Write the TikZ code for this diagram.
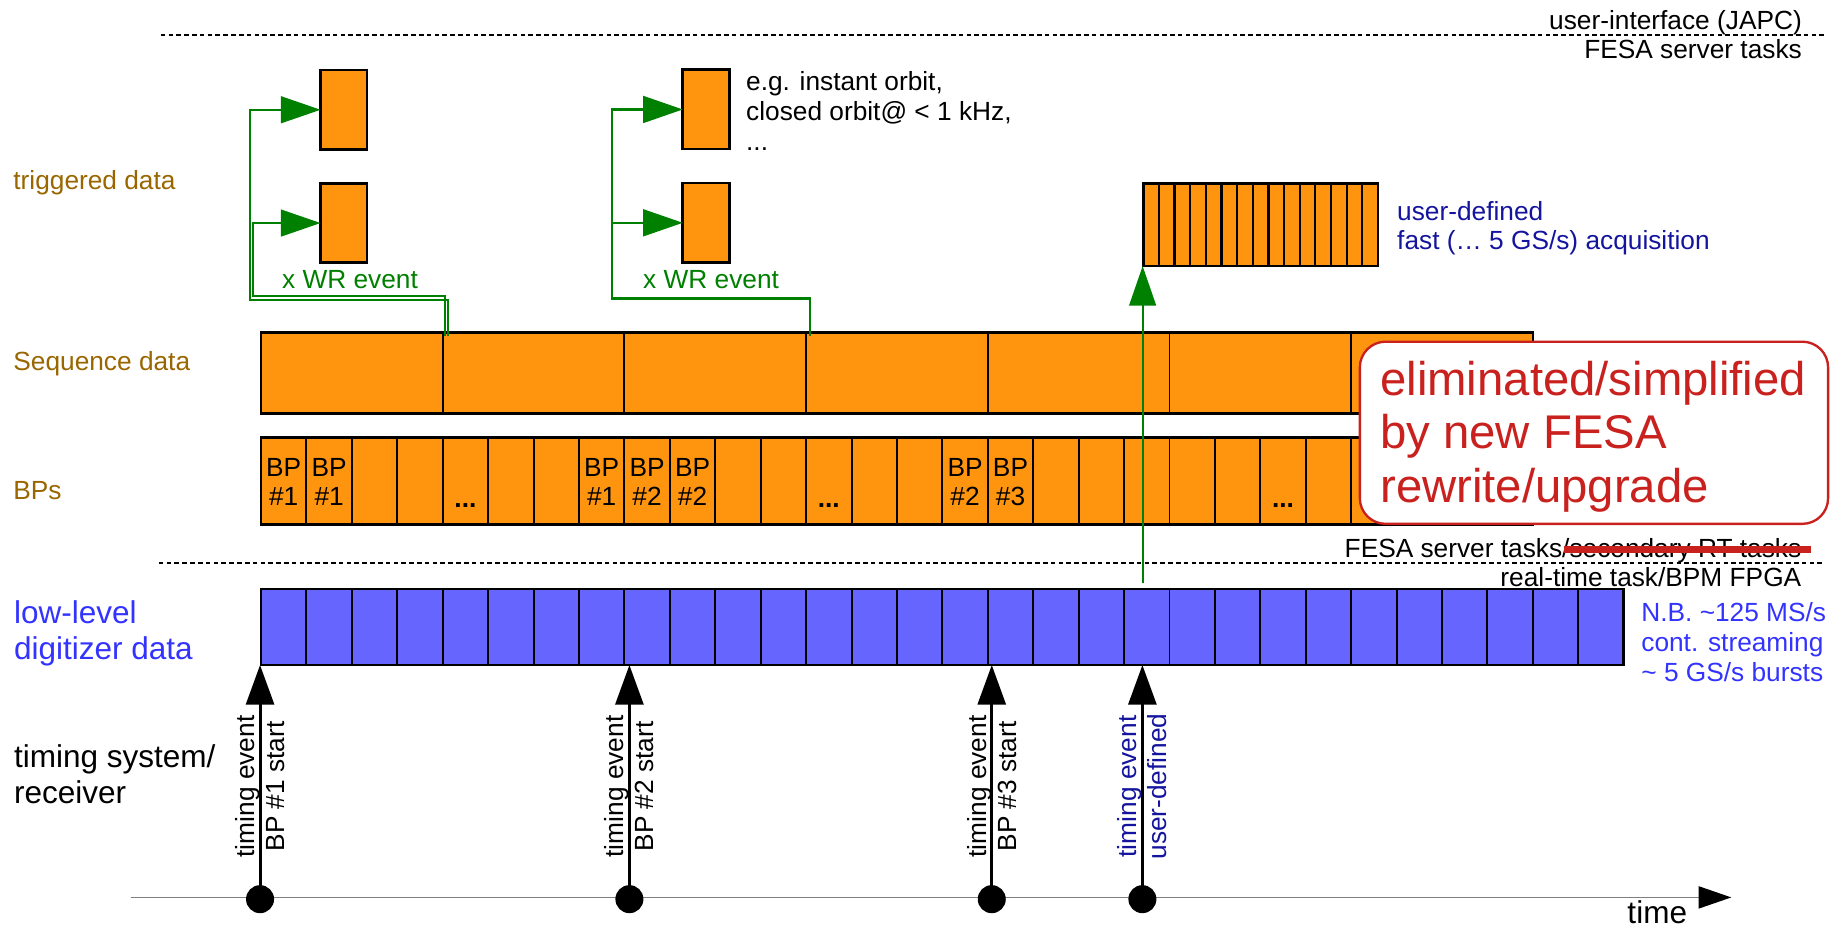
\documentclass[tikz,border=0pt]{standalone}
\usepackage{fontspec}
\setmainfont{Liberation Sans}
\usetikzlibrary{arrows.meta,calc}
\definecolor{orangef}{HTML}{FF950E}
\definecolor{bluef}{HTML}{6666FF}
\definecolor{brownt}{HTML}{996600}
\definecolor{bluet}{HTML}{3333FF}
\definecolor{dbluet}{HTML}{14149E}
\definecolor{redt}{HTML}{C9211E}
\definecolor{greenl}{HTML}{008000}
\definecolor{grayl}{HTML}{7F7F7F}
\newcommand\fsN{\fontsize{22.5pt}{25.5pt}\selectfont}
\newcommand\fsL{\fontsize{27pt}{31pt}\selectfont}
\newcommand\fsR{\fontsize{40.5pt}{46pt}\selectfont}
\begin{document}
\begin{tikzpicture}[x=1pt,y=-1pt,
  every node/.style={inner sep=0pt,outer sep=0pt},
  txt/.style={font=\fsN,anchor=base west},
  txtr/.style={font=\fsN,anchor=base east},
  lbl/.style={font=\fsN,anchor=base west,text=brownt},
  big/.style={font=\fsL,anchor=base west},
  scell/.style={draw,fill=orangef,line width=1.7pt,minimum width=155.6pt,minimum height=69.5pt,anchor=north west},
  bcell/.style={draw,fill=orangef,line width=1.7pt,minimum width=38.9pt,minimum height=74.5pt,anchor=north west},
  dcell/.style={draw,fill=bluef,line width=1.7pt,minimum width=38.9pt,minimum height=65pt,anchor=north west},
  fcell/.style={draw,fill=orangef,line width=1.9pt,minimum width=13.4pt,minimum height=70.5pt,anchor=north west},
  frame/.style={draw,line width=2.2pt},
  tbox/.style={draw,fill=orangef,line width=2.2pt,minimum width=39.8pt,minimum height=68pt},
  bptxt/.style={font=\fsN,anchor=base},
  wr/.style={draw=greenl,line width=1.6pt,-{Triangle[length=34pt,width=23pt]}},
  tarrow/.style={draw=black,line width=2.6pt,-{Triangle[length=34pt,width=24pt]}},
  dot/.style={circle,fill=black,minimum size=24pt},
  rot/.style={font=\fsN,rotate=90,align=center},
  sepline/.style={line width=1.6pt,dash pattern=on 4pt off 2.7pt}
]
\useasboundingbox (0,0) rectangle (1568,795);

% separators
\draw[sepline] (137.6,30) -- (1563,30);
\draw[sepline] (136,482.4) -- (1563,482.4);
\node[txtr] (ui) at (1543,25) {user-interface (JAPC)};
\node[txtr] (fst) at (1543,50) {FESA server tasks};
\node[txtr] (fst2) at (1542.5,477.6) {FESA server tasks/secondary RT tasks};
\draw[redt,line width=6pt] (1339,470.6) -- (1550.7,470.6);
\node[txtr] (rtt) at (1542.5,502.4) {real-time task/BPM FPGA};

% left labels
\node[lbl] (ltrig) at (11.5,162.5) {triggered data};
\node[lbl] (lseq) at (11.5,317.5) {Sequence data};
\node[lbl] (lbps) at (11.5,427.6) {BPs};
\node[big,text=bluet] (ll1) at (12,533.8) {low-level};
\node[big,text=bluet] (ll2) at (12,564.6) {digitizer data};
\node[big] (ts1) at (12,657) {timing system/};
\node[big] (ts2) at (12,688) {receiver};

% sequence data bar
\foreach \i in {0,...,6} \node[scell] (sq\i) at ({223.5+155.6*\i},284.5) {};
\draw[frame] (sq0.north west) rectangle (sq6.south east);
% BP bar
\foreach \i in {0,...,27} \node[bcell] (bp\i) at ({223.5+38.9*\i},374.5) {};
\draw[frame] (bp0.north west) rectangle (bp27.south east);
\foreach \i/\n in {0/1,1/1,7/1,8/2,9/2,15/2,16/3} {
  \node[bptxt] (bpa\i) at ({223.5+38.9*\i+19.45},408.2) {BP};
  \node[bptxt] (bpb\i) at ({223.5+38.9*\i+19.45},433) {\#\n};
}
\foreach \i in {4,12,22} \node[bptxt,font=\fsN\bfseries] (bpd\i) at ({223.5+38.9*\i+19.45},434.5) {...};

% digitizer bar
\foreach \i in {0,...,29} \node[dcell] (dg\i) at ({223.5+38.9*\i},504.5) {};
\draw[frame] (dg0.north west) rectangle (dg29.south east);
\node[txt,text=bluet] (nb1) at (1405.6,532.4) {N.B. \textasciitilde125 MS/s};
\node[txt,text=bluet] (nb2) at (1405.6,558) {cont. streaming};
\node[txt,text=bluet] (nb3) at (1405.6,583.8) {\textasciitilde\ 5 GS/s bursts};

% triggered data boxes
\node[tbox] (tb1) at (294.4,94) {};
\node[tbox] (tb2) at (294.4,191) {};
\node[tbox] (tb3) at (604.6,93.75) {};
\node[tbox] (tb4) at (604.6,190.8) {};
\node[txt] (eg1) at (639,77.7) {e.g. instant orbit,};
\node[txt] (eg2) at (639,102.8) {closed orbit@ < 1 kHz,};
\node[txt] (eg3) at (639,129) {...};
\node[txt,text=greenl] (wr1) at (241.6,247) {x WR event};
\node[txt,text=greenl] (wr2) at (550.8,247) {x WR event};

\coordinate (g1a) at (383.5,288);
\coordinate (g1b) at (381,288);
\coordinate (g2a) at (693.5,288);
\draw[wr] (g1a) -- ++(0,-31) -- ++(-169.4,0) |- (tb1.west);
\draw[wr] (g1b) -- ++(0,-34.5) -- ++(-164.2,0) |- (tb2.west);
\draw[wr,line width=2pt] (g2a) -- ++(0,-32.5) -- ++(-169.5,0) |- (tb3.west);
\draw[wr,line width=2pt] (g2a) -- ++(0,-32.5) -- ++(-169.5,0) |- (tb4.west);

% fast acquisition
\foreach \i in {0,...,14} \node[fcell] (fc\i) at ({979+13.4*\i},157.3) {};
\draw[frame] (fc0.north west) rectangle (fc14.south east);
\node[txt,text=dbluet] (ud1) at (1196.5,188.4) {user-defined};
\node[txt,text=dbluet] (ud2) at (1196.5,214) {fast (… 5 GS/s) acquisition};
\coordinate (gs) at (978.5,499);
\draw[wr] (gs) -- (gs |- fc0.south);

% red box
\node[draw=redt,line width=2pt,fill=white,rounded corners=22pt,minimum width=401pt,minimum height=156pt,anchor=north west] (elim) at (1164.5,292.6) {};
\node[font=\fsR,text=redt,anchor=base west] (el1) at (1182,339) {eliminated/simplified};
\node[font=\fsR,text=redt,anchor=base west] (el2) at (1182,384) {by new FESA};
\node[font=\fsR,text=redt,anchor=base west] (el3) at (1182,430.5) {rewrite/upgrade};

% timeline
\coordinate (tl0) at (112,768.5);
\coordinate (tl1) at (1482.6,768.5);
\draw[grayl,line width=1.2pt,-{Triangle[length=28pt,width=19pt,color=black]}] (tl0) -- (tl1);
\node[font=\fsL,anchor=base west] (time) at (1393.7,790.7) {time};

\node[dot] (d1) at (222.7,770) {};
\node[dot] (d2) at (539,770) {};
\node[dot] (d3) at (849.3,770) {};
\node[dot] (d4) at (978.3,770) {};
\foreach \d in {d1,d2,d3,d4} \draw[tarrow] (\d.center) -- (\d.center |- dg0.south);

\node[rot] (r1) at (222.7,673.5) {timing event\\BP \#1 start};
\node[rot] (r2) at (539,673.5) {timing event\\BP \#2 start};
\node[rot] (r3) at (849.3,673.5) {timing event\\BP \#3 start};
\node[rot,text=dbluet] (r4) at (978.3,673.5) {timing event\\user-defined};
\end{tikzpicture}
\end{document}
